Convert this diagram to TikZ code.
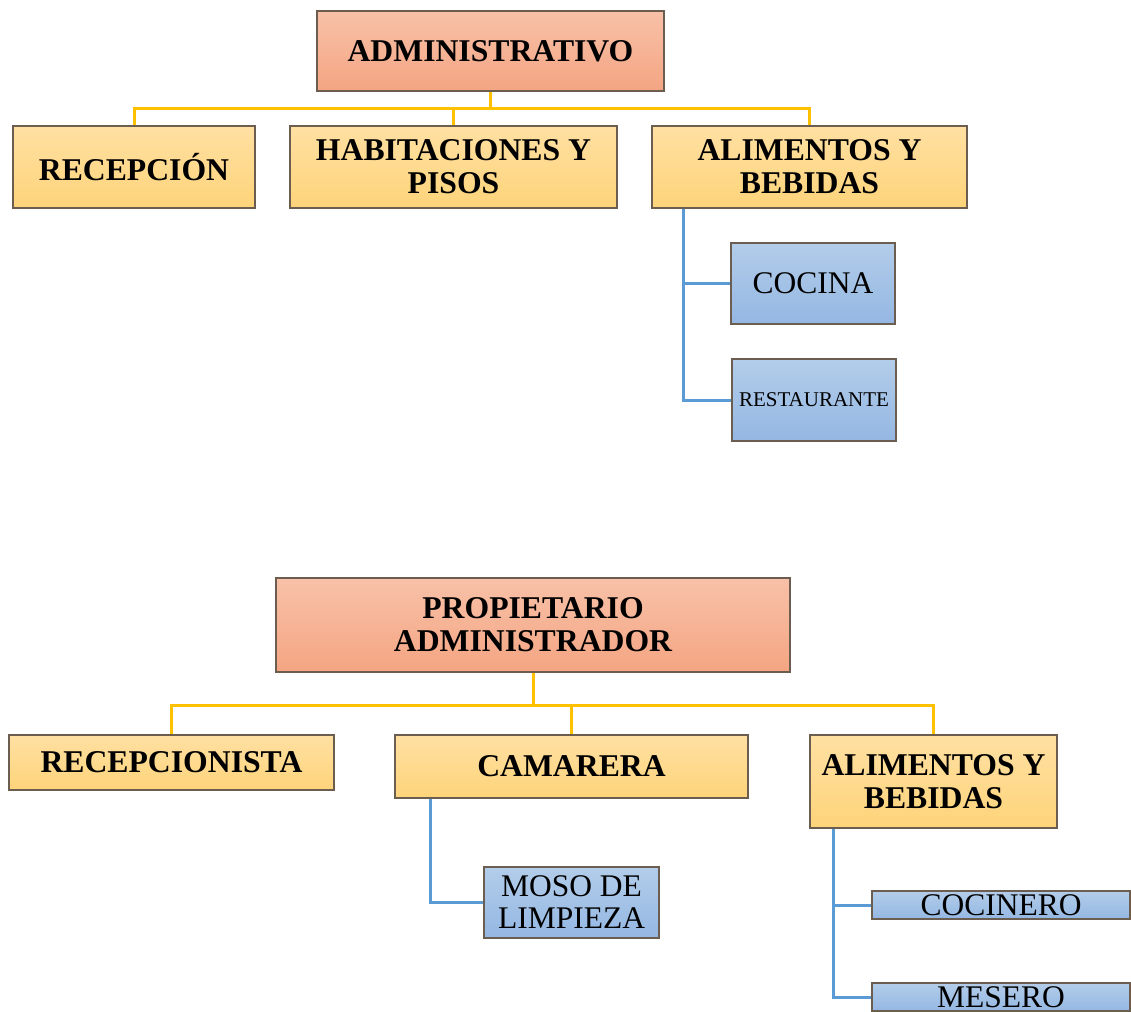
\documentclass[tikz,border=0pt]{standalone}
\usepackage{fontspec}
\setmainfont{Liberation Serif}
\usepackage{tikz}

\definecolor{jefetop}{HTML}{F8C1A8}
\definecolor{jefebot}{HTML}{F4A582}
\definecolor{areatop}{HTML}{FFE0A3}
\definecolor{areabot}{HTML}{FED47A}
\definecolor{subtop}{HTML}{B3CDEA}
\definecolor{subbot}{HTML}{94B7E2}
\definecolor{marco}{HTML}{6B5D4F}
\definecolor{lineaam}{HTML}{FFC000}
\definecolor{lineaaz}{HTML}{5B9BD5}

\begin{document}
\begin{tikzpicture}[x=1pt,y=-1pt,
  caja/.style={draw=marco,line width=1.2pt,inner sep=0pt,align=center},
  jefe/.style={caja,top color=jefetop,bottom color=jefebot,font=\fontsize{31.7}{33}\selectfont\bfseries},
  area/.style={caja,top color=areatop,bottom color=areabot,font=\fontsize{31.7}{33}\selectfont\bfseries},
  sub/.style={caja,top color=subtop,bottom color=subbot,font=\fontsize{31.5}{32}\selectfont},
  lam/.style={draw=lineaam,line width=3pt},
  laz/.style={draw=lineaaz,line width=3pt}]
\useasboundingbox (0,0) rectangle (1131,1011);

  % primer organigrama
  \node[jefe,minimum width=347pt,minimum height=80pt] (adm) at (490.5,51) {ADMINISTRATIVO};
  \node[area,minimum width=242pt,minimum height=82pt] (rec) at (134,167) {RECEPCIÓN};
  \node[area,minimum width=327pt,minimum height=82pt] (hab) at (453.5,167) {HABITACIONES Y\\PISOS};
  \node[area,minimum width=315pt,minimum height=82pt] (ali) at (809.5,167) {ALIMENTOS Y\\BEBIDAS};
  \node[sub,minimum width=164pt,minimum height=81pt] (coc) at (813,283.5) {COCINA};
  \node[sub,minimum width=164pt,minimum height=82pt,font=\fontsize{21}{23}\selectfont] (res) at (814,400) {RESTAURANTE};

  \draw[lam] (adm.south) -- ++(0,17) coordinate (ja);
  \draw[lam] (rec.north) |- (ja) -| (ali.north);
  \draw[lam] (hab.north) -- (hab.north |- ja);
  \draw[laz] ([xshift=32pt]ali.south west) |- (coc.west);
  \draw[laz] ([xshift=32pt]ali.south west) |- (res.west);

  % segundo organigrama
  \node[jefe,minimum width=514pt,minimum height=94pt] (pro) at (533,625) {PROPIETARIO\\ADMINISTRADOR};
  \node[area,minimum width=325pt,minimum height=55pt] (rcp) at (171.5,762.5) {RECEPCIONISTA};
  \node[area,minimum width=353pt,minimum height=63pt] (cam) at (571.5,766.5) {CAMARERA};
  \node[area,minimum width=247pt,minimum height=93pt] (alb) at (933.5,781.5) {ALIMENTOS Y\\BEBIDAS};
  \node[sub,minimum width=175pt,minimum height=71pt] (mos) at (571.5,902.5) {MOSO DE\\LIMPIEZA};
  \node[sub,minimum width=258pt,minimum height=28pt] (cci) at (1001,905) {COCINERO};
  \node[sub,minimum width=258pt,minimum height=28pt] (mes) at (1001,997) {MESERO};

  \draw[lam] (pro.south) -- ++(0,33) coordinate (jb);
  \draw[lam] (rcp.north) |- (jb) -| (alb.north);
  \draw[lam] (cam.north) -- (cam.north |- jb);
  \draw[laz] ([xshift=36pt]cam.south west) |- (mos.west);
  \draw[laz] ([xshift=24pt]alb.south west) |- (cci.west);
  \draw[laz] ([xshift=24pt]alb.south west) |- (mes.west);
\end{tikzpicture}
\end{document}
